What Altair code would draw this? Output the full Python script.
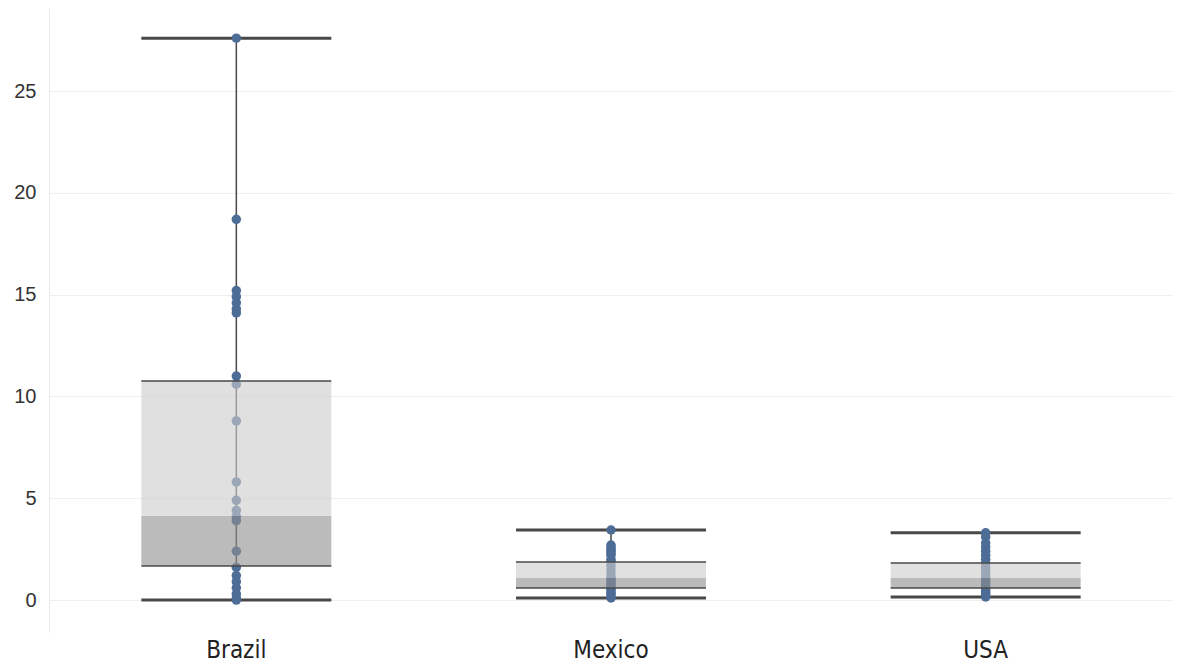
import altair as alt
import pandas as pd

# ---- data ----
countries = ["Brazil", "Mexico", "USA"]

brazil_values = [27.6, 18.7, 15.2, 14.9, 14.6, 14.3, 14.1, 11.0, 10.6, 8.8, 5.8,
                 4.9, 4.4, 4.1, 3.9, 2.4, 1.6, 1.2, 0.9, 0.6, 0.3, 0.1, 0.0]
mexico_values = [3.44, 2.7, 2.6, 2.5, 2.4, 2.3, 2.2, 2.0, 1.9, 1.7, 1.5, 1.3, 1.1,
                 1.0, 0.9, 0.8, 0.7, 0.6, 0.5, 0.4, 0.3, 0.2, 0.1]
usa_values = [3.3, 3.1, 2.8, 2.6, 2.4, 2.2, 2.0, 1.8, 1.6, 1.4, 1.2, 1.1, 1.0,
              0.9, 0.8, 0.7, 0.6, 0.5, 0.4, 0.3, 0.2, 0.15]

whisker_low = [0.0, 0.1, 0.15]
q1 = [1.67, 0.59, 0.59]
median = [4.13, 1.08, 1.08]
q3 = [10.76, 1.87, 1.82]
whisker_high = [27.6, 3.44, 3.3]

y_ticks = [0, 5, 10, 15, 20, 25]

# ---- tables ----
points = pd.DataFrame(
    [{"Country": "Brazil", "Value": v} for v in brazil_values]
    + [{"Country": "Mexico", "Value": v} for v in mexico_values]
    + [{"Country": "USA", "Value": v} for v in usa_values]
)
stats = pd.DataFrame({"Country": countries, "lo": whisker_low, "q1": q1,
                      "med": median, "q3": q3, "hi": whisker_high})

BOX_W = 190
LINE = "#484848"
PT = "#4d6d97"

x = alt.X("Country:N", sort=countries,
          scale=alt.Scale(paddingInner=0, paddingOuter=0),
          axis=alt.Axis(title=None, labelAngle=0, ticks=False, domain=False,
                        labelFontSize=24, labelColor="#222222",
                        labelFont="DejaVu Sans Condensed, Liberation Sans",
                        labelPadding=6))
yscale = alt.Scale(domain=[-1.57, 29.08], nice=False, zero=False)
yaxis = alt.Axis(title=None, values=y_ticks, ticks=False, labelFontSize=20,
                 labelColor="#333333", labelFont="Liberation Sans",
                 labelPadding=13, grid=True, gridColor="#efefef",
                 domainColor="#e8e8e8", minExtent=41, maxExtent=41)

base_s = alt.Chart(stats)

vrule = base_s.mark_rule(color=LINE, strokeWidth=1.5, opacity=1).encode(
    x=x, y=alt.Y("lo:Q", scale=yscale, axis=yaxis), y2="hi:Q")

whisk_lo = base_s.mark_tick(size=BOX_W, thickness=3, color=LINE, opacity=1).encode(
    x=x, y=alt.Y("lo:Q", scale=yscale))
whisk_hi = base_s.mark_tick(size=BOX_W, thickness=3, color=LINE, opacity=1).encode(
    x=x, y=alt.Y("hi:Q", scale=yscale))

pts = alt.Chart(points).mark_circle(size=90, color=PT, opacity=1).encode(
    x=x, y=alt.Y("Value:Q", scale=yscale))

upper = base_s.mark_bar(size=BOX_W, color="#cccccc", opacity=0.61).encode(
    x=x, y=alt.Y("med:Q", scale=yscale), y2="q3:Q")
lower = base_s.mark_bar(size=BOX_W, color="#909090", opacity=0.61).encode(
    x=x, y=alt.Y("q1:Q", scale=yscale), y2="med:Q")

edge_q1 = base_s.mark_tick(size=BOX_W, thickness=1.5, color=LINE, opacity=1).encode(
    x=x, y=alt.Y("q1:Q", scale=yscale))
edge_q3 = base_s.mark_tick(size=BOX_W, thickness=1.5, color=LINE, opacity=1).encode(
    x=x, y=alt.Y("q3:Q", scale=yscale))

chart = alt.layer(vrule, whisk_lo, whisk_hi, pts, upper, lower, edge_q1, edge_q3).properties(
    width=1124, height=624
).configure(background="white", padding=0).configure_view(
    stroke="transparent", strokeOpacity=0, strokeWidth=0)

chart.save("out.html", embed_options={"renderer": "svg", "actions": False})
